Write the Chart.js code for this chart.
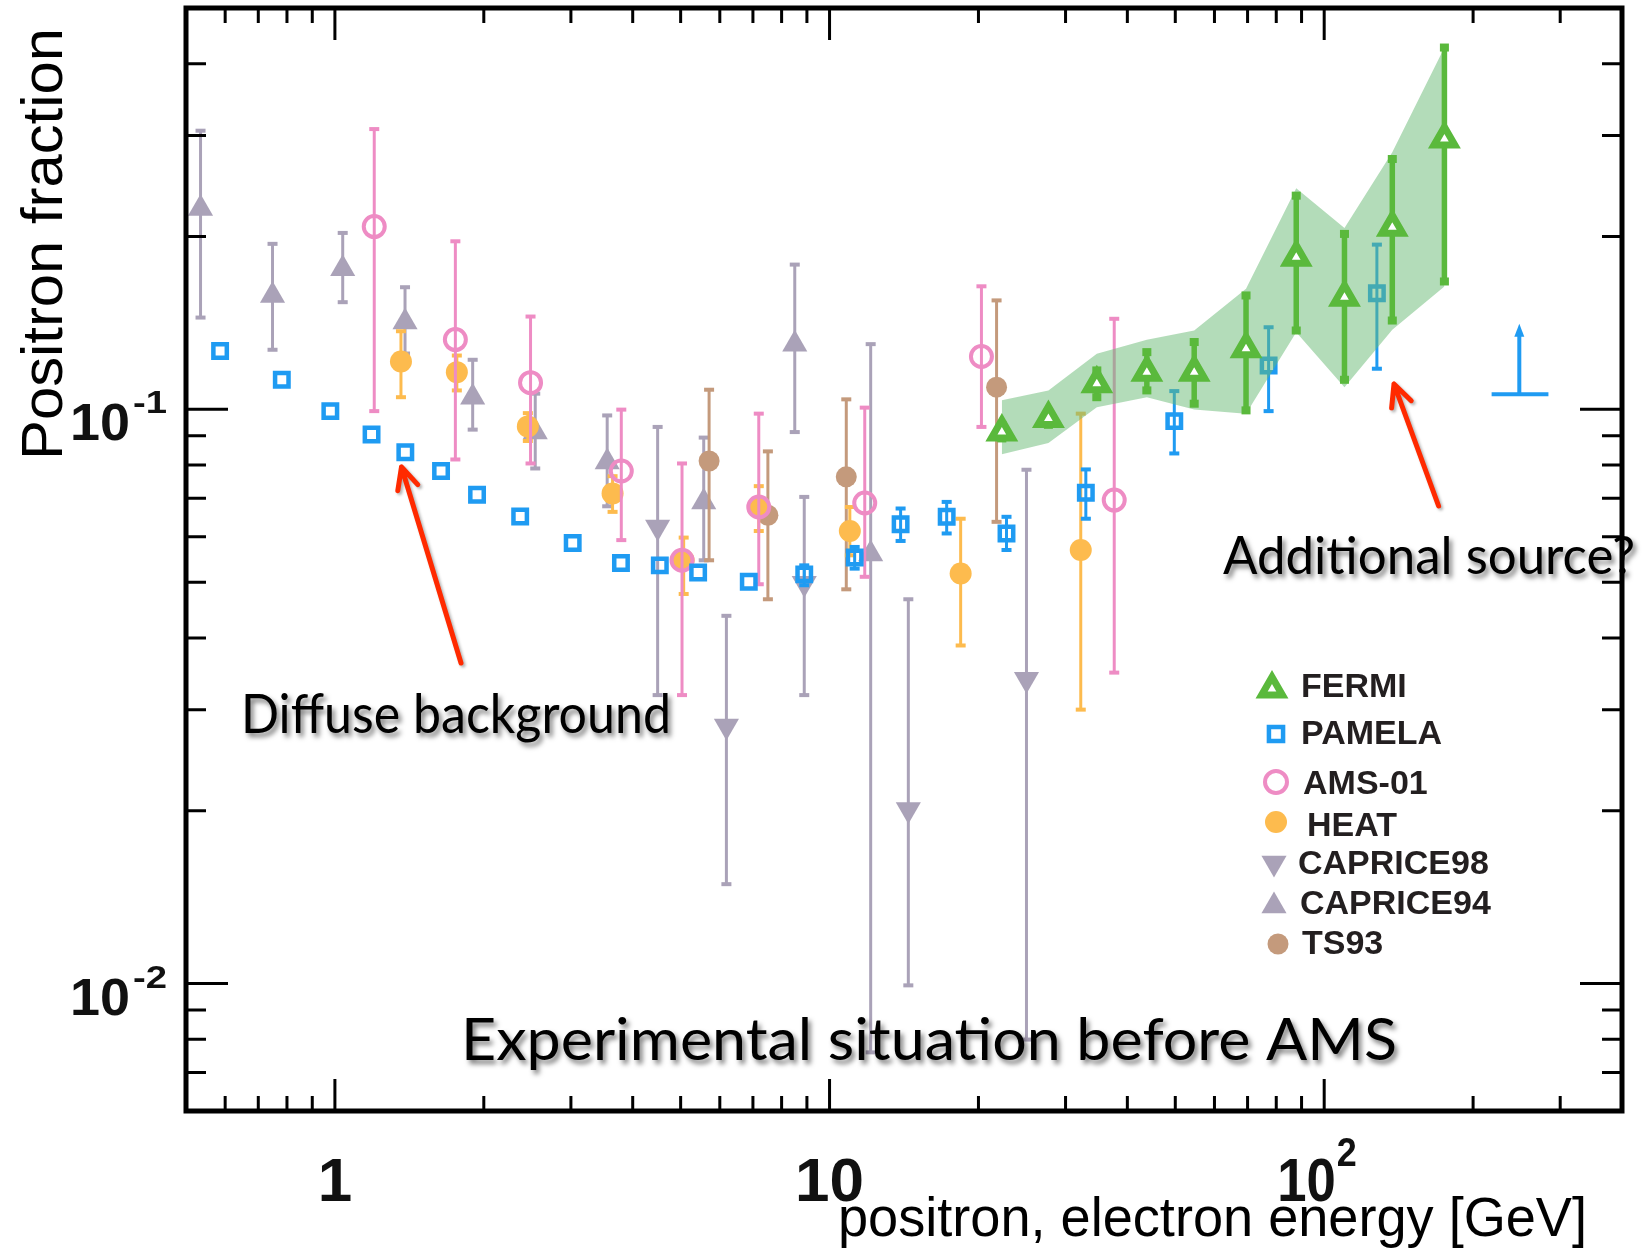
<!DOCTYPE html>
<html>
<head>
<meta charset="utf-8">
<script src="https://cdn.jsdelivr.net/npm/chart.js@4.4.1/dist/chart.umd.min.js"></script>
<style>
  html, body { margin: 0; padding: 0; background: #fff; }
</style>
</head>
<body>
<canvas id="chart" width="1643" height="1250"></canvas>
<script>
// energy in GeV, positron fraction
const fermiE = [22.3, 27.7, 34.7, 43.8, 54.6, 69.5, 87.8, 109.9, 137.3, 175.0];
const fermiF = [0.0913, 0.0964, 0.1108, 0.1161, 0.1161, 0.1275, 0.184, 0.1568, 0.2075, 0.2957];
const fermiLo = [0.089, 0.094, 0.105, 0.1079, 0.1023, 0.0996, 0.1372, 0.1126, 0.1428, 0.167];
const fermiHi = [0.094, 0.099, 0.1169, 0.1258, 0.131, 0.1579, 0.2356, 0.2021, 0.2729, 0.4267];
const fermiBandHi = [0.1037, 0.1079, 0.125, 0.1322, 0.1372, 0.1622, 0.2426, 0.207, 0.2803, 0.4267];
const fermiBandLo = [0.0835, 0.0874, 0.1009, 0.105, 0.0999, 0.0983, 0.1363, 0.1093, 0.1376, 0.1636];

const pamelaE = [0.586, 0.781, 0.979, 1.186, 1.388, 1.639, 1.938, 2.369, 3.025, 3.787, 4.538, 5.424, 6.866,
  8.889, 11.24, 13.92, 17.25, 22.79, 32.97, 49.77, 77.2, 127.8];
const pamelaF = [0.1264, 0.1126, 0.0993, 0.0904, 0.0842, 0.0781, 0.071, 0.0651, 0.0585, 0.054, 0.0535, 0.052, 0.0501,
  0.0516, 0.0552, 0.0631, 0.065, 0.0608, 0.0716, 0.0954, 0.1192, 0.1593];
const pamelaLo = [null, null, null, null, null, null, null, null, null, null, null, null, null,
  0.0494, 0.0528, 0.059, 0.0608, 0.0569, 0.0645, 0.0838, 0.0993, 0.1177];
const pamelaHi = [null, null, null, null, null, null, null, null, null, null, null, null, null,
  0.0535, 0.0576, 0.0672, 0.069, 0.065, 0.0786, 0.1076, 0.139, 0.1936];
// lower limit: energy bin [lo, centre, hi], fraction [bar, arrow tip]
const pamelaLimitE = [218, 248, 284];
const pamelaLimitF = [0.1062, 0.141];

const amsE = [1.201, 1.752, 2.486, 3.793, 5.032, 7.193, 11.78, 20.28, 37.63];
const amsF = [0.2081, 0.1323, 0.1113, 0.0781, 0.0546, 0.0676, 0.0687, 0.1236, 0.0695];
const amsLo = [0.0993, 0.0818, 0.0805, 0.0592, 0.0318, 0.0496, 0.0511, 0.0932, 0.0348];
const amsHi = [0.3077, 0.1962, 0.1451, 0.0999, 0.0805, 0.0983, 0.1007, 0.1638, 0.1438];

const heatE = [1.36, 1.764, 2.455, 3.642, 5.071, 7.193, 10.99, 18.41, 32.2];
const heatF = [0.1212, 0.1161, 0.0934, 0.0714, 0.0546, 0.0676, 0.0614, 0.0518, 0.0569];
const heatLo = [0.105, 0.1079, 0.0881, 0.0663, 0.0477, 0.0614, 0.0557, 0.0388, 0.03];
const heatHi = [0.1368, 0.1241, 0.0985, 0.0765, 0.0598, 0.0735, 0.0676, 0.0645, 0.0983];

const caprice98E = [4.492, 6.187, 8.889, 14.43, 25.01];
const caprice98F = [0.0624, 0.0281, 0.0498, 0.0201, 0.0339];
const caprice98Lo = [0.0318, 0.0149, 0.0318, 0.00993, 0.00799];
const caprice98Hi = [0.0932, 0.0437, 0.0704, 0.0467, 0.0785];

const caprice94E = [0.535, 0.748, 1.037, 1.386, 1.899, 2.541, 3.552, 5.567, 8.505, 12.11];
const caprice94F = [0.2237, 0.1579, 0.1757, 0.1419, 0.105, 0.0913, 0.081, 0.069, 0.1299, 0.056];
const caprice94Lo = [0.1445, 0.127, 0.1537, 0.1251, 0.0922, 0.0789, 0.0678, 0.0546, 0.0913, 0.00759];
const caprice94Hi = [0.3057, 0.1942, 0.2029, 0.1632, 0.122, 0.1065, 0.0976, 0.0893, 0.1787, 0.1299];

const ts93E = [5.708, 7.505, 10.81, 21.76];
const ts93F = [0.0813, 0.0654, 0.0763, 0.1093];
const ts93Lo = [0.0546, 0.0467, 0.0486, 0.0637];
const ts93Hi = [0.1082, 0.0845, 0.1041, 0.1548];

const xMajorTicks = [1, 10, 100];
const xMinorTicks = [0.6, 0.7, 0.8, 0.9, 2, 3, 4, 5, 6, 7, 8, 9, 20, 30, 40, 50, 60, 70, 80, 90, 200, 300];
const yMajorTicks = [0.01, 0.1];
const yMinorTicks = [0.007, 0.008, 0.009, 0.02, 0.03, 0.04, 0.05, 0.06, 0.07, 0.08, 0.09, 0.2, 0.3, 0.4];
const xTickLabels = [["1", ""], ["10", ""], ["10", "2"]];
const yTickLabels = [["10", "-2"], ["10", "-1"]];

const GREEN = "#5ab93c";
const BLUE = "#1f9bf2";
const PINK = "#ee8cc4";
const ORANGE = "#fdbb4e";
const GREY = "#aaa2b8";
const BROWN = "#c49a7c";
const RED = "#ff2a00";

const pts = (xs, ys) => xs.map((x, i) => ({ x: x, y: ys[i] }));

function series(label, xs, ys, lo, hi, color, marker) {
    return Object.assign({
        label: label,
        data: pts(xs, ys),
        errLo: lo,
        errHi: hi,
        errColor: color,
        errWidth: 3,
        capW: 10,
        capH: 4,
        pointBorderColor: color,
        pointBackgroundColor: color,
        pointBorderWidth: 0,
        pointHoverRadius: marker.pointRadius,
    }, marker);
}

const errorBars = {
    id: "errorBars",
    beforeDatasetDraw(chart, args) {
        const ds = chart.data.datasets[args.index];
        if (!ds.errLo) return;
        const ys = chart.scales.y;
        const a = chart.chartArea;
        const ctx = chart.ctx;
        ctx.save();
        ctx.beginPath();
        ctx.rect(a.left, a.top, a.right - a.left, a.bottom - a.top);
        ctx.clip();
        ctx.strokeStyle = ds.errColor;
        ctx.fillStyle = ds.errColor;
        ctx.lineWidth = ds.errWidth;
        args.meta.data.forEach((p, i) => {
            if (ds.errLo[i] == null) return;
            const y1 = ys.getPixelForValue(ds.errHi[i]);
            const y2 = ys.getPixelForValue(ds.errLo[i]);
            ctx.beginPath();
            ctx.moveTo(p.x, y1);
            ctx.lineTo(p.x, y2);
            ctx.stroke();
            ctx.fillRect(p.x - ds.capW / 2, y1 - ds.capH / 2, ds.capW, ds.capH);
            ctx.fillRect(p.x - ds.capW / 2, y2 - ds.capH / 2, ds.capW, ds.capH);
        });
        ctx.restore();
    },
};

// stretch / squeeze a string to a given width
function fitText(ctx, text, x, y, w) {
    const m = ctx.measureText(text).width;
    ctx.save();
    ctx.translate(x, y);
    ctx.scale(w / m, 1);
    ctx.textAlign = "left";
    ctx.fillText(text, 0, 0);
    ctx.restore();
}

function arrow(ctx, x1, y1, x2, y2) {
    const ang = Math.atan2(y2 - y1, x2 - x1);
    ctx.beginPath();
    ctx.moveTo(x1, y1);
    ctx.lineTo(x2, y2);
    ctx.moveTo(x2 - 24 * Math.cos(ang - 0.45), y2 - 24 * Math.sin(ang - 0.45));
    ctx.lineTo(x2, y2);
    ctx.lineTo(x2 - 24 * Math.cos(ang + 0.45), y2 - 24 * Math.sin(ang + 0.45));
    ctx.stroke();
}

const legendItems = [
    { text: "FERMI", style: "triangle", rot: 0, r: 12, bw: 7, stroke: GREEN, fill: "#fff", mx: 1272, my: 689, tx: 1301, ty: 688 },
    { text: "PAMELA", style: "rect", rot: 0, r: 10, bw: 4.5, stroke: BLUE, fill: "#fff", mx: 1276, my: 734, tx: 1301, ty: 735 },
    { text: "AMS-01", style: "circle", rot: 0, r: 11, bw: 4, stroke: PINK, fill: "#fff", mx: 1276, my: 782, tx: 1303, ty: 785 },
    { text: "HEAT", style: "circle", rot: 0, r: 11, bw: 0, stroke: ORANGE, fill: ORANGE, mx: 1276, my: 822, tx: 1307, ty: 827 },
    { text: "CAPRICE98", style: "triangle", rot: 180, r: 14.5, bw: 0, stroke: GREY, fill: GREY, mx: 1274, my: 863, tx: 1298, ty: 865 },
    { text: "CAPRICE94", style: "triangle", rot: 0, r: 14.5, bw: 0, stroke: GREY, fill: GREY, mx: 1274, my: 906, tx: 1300, ty: 905 },
    { text: "TS93", style: "circle", rot: 0, r: 10.5, bw: 0, stroke: BROWN, fill: BROWN, mx: 1278, my: 944, tx: 1302, ty: 945 },
];

const decorations = {
    id: "decorations",
    afterDatasetsDraw(chart) {
        const ctx = chart.ctx;
        const xs = chart.scales.x;
        const ys = chart.scales.y;

        // PAMELA lower limit
        const lx0 = xs.getPixelForValue(pamelaLimitE[0]);
        const lx = xs.getPixelForValue(pamelaLimitE[1]);
        const lx1 = xs.getPixelForValue(pamelaLimitE[2]);
        const ly = ys.getPixelForValue(pamelaLimitF[0]);
        const lt = ys.getPixelForValue(pamelaLimitF[1]);
        ctx.save();
        ctx.strokeStyle = BLUE;
        ctx.fillStyle = BLUE;
        ctx.lineWidth = 4;
        ctx.beginPath();
        ctx.moveTo(lx0, ly);
        ctx.lineTo(lx1, ly);
        ctx.moveTo(lx, ly);
        ctx.lineTo(lx, lt + 8);
        ctx.stroke();
        ctx.beginPath();
        ctx.moveTo(lx, lt);
        ctx.lineTo(lx - 5, lt + 13);
        ctx.lineTo(lx + 5, lt + 13);
        ctx.closePath();
        ctx.fill();
        ctx.restore();
    },
    afterDraw(chart) {
        const ctx = chart.ctx;
        const a = chart.chartArea;
        const xs = chart.scales.x;
        const ys = chart.scales.y;

        // annotations
        ctx.save();
        ctx.fillStyle = "#000";
        ctx.shadowColor = "rgba(0,0,0,0.5)";
        ctx.shadowOffsetX = 3;
        ctx.shadowOffsetY = 4;
        ctx.shadowBlur = 5;
        ctx.textBaseline = "alphabetic";
        ctx.font = "54px Lato, 'Open Sans', sans-serif";
        fitText(ctx, "Diffuse background", 241, 733, 430);
        ctx.font = "53px Lato, 'Open Sans', sans-serif";
        fitText(ctx, "Additional source?", 1223, 574, 412);
        ctx.font = "59px Lato, 'Open Sans', sans-serif";
        fitText(ctx, "Experimental situation before AMS", 461, 1060, 936);

        ctx.shadowColor = "rgba(0,0,0,0.3)";
        ctx.shadowOffsetX = 2;
        ctx.shadowOffsetY = 2;
        ctx.shadowBlur = 3;
        ctx.strokeStyle = RED;
        ctx.lineWidth = 5;
        ctx.lineCap = "round";
        ctx.lineJoin = "round";
        arrow(ctx, 461, 663, 401.5, 467);
        arrow(ctx, 1438.6, 506, 1394, 384);
        ctx.restore();

        // legend
        ctx.save();
        legendItems.forEach((it) => {
            ctx.strokeStyle = it.stroke;
            ctx.fillStyle = it.fill;
            ctx.lineWidth = it.bw;
            Chart.helpers.drawPoint(ctx, { pointStyle: it.style, rotation: it.rot, radius: it.r, borderWidth: it.bw }, it.mx, it.my);
            ctx.fillStyle = "#231f20";
            ctx.font = "bold 34px 'Liberation Sans', Arial, sans-serif";
            ctx.textBaseline = "middle";
            ctx.textAlign = "left";
            ctx.fillText(it.text, it.tx, it.ty);
        });
        ctx.restore();

        // frame and ticks
        ctx.save();
        ctx.strokeStyle = "#000";
        ctx.lineWidth = 3;
        ctx.beginPath();
        const xt = (vals, len) => vals.forEach((v) => {
            const p = xs.getPixelForValue(v);
            ctx.moveTo(p, a.bottom);
            ctx.lineTo(p, a.bottom - len);
            ctx.moveTo(p, a.top);
            ctx.lineTo(p, a.top + len);
        });
        const yt = (vals, len) => vals.forEach((v) => {
            const p = ys.getPixelForValue(v);
            ctx.moveTo(a.left, p);
            ctx.lineTo(a.left + len, p);
            ctx.moveTo(a.right, p);
            ctx.lineTo(a.right - len, p);
        });
        xt(xMajorTicks, 32);
        xt(xMinorTicks, 15);
        yt(yMajorTicks, 42);
        yt(yMinorTicks, 20);
        ctx.stroke();
        ctx.lineWidth = 5;
        ctx.strokeRect(a.left, a.top, a.right - a.left, a.bottom - a.top);
        ctx.restore();

        // tick labels
        ctx.save();
        ctx.fillStyle = "#111";
        ctx.textBaseline = "alphabetic";
        xMajorTicks.forEach((v, i) => {
            const p = xs.getPixelForValue(v);
            const [base, sup] = xTickLabels[i];
            ctx.font = "bold 62px 'Liberation Sans', Arial, sans-serif";
            const bw = ctx.measureText(base).width;
            if (!sup) {
                fitText(ctx, base, p - bw / 2, 1201, bw);
                return;
            }
            ctx.font = "bold 62px 'Liberation Sans', Arial, sans-serif";
            fitText(ctx, base, p - 47, 1201, bw * 0.85);
            ctx.font = "bold 40px 'Liberation Sans', Arial, sans-serif";
            fitText(ctx, sup, p - 47 + bw * 0.85 + 1, 1166, 20);
        });
        yTickLabels.forEach((lab, i) => {
            const p = ys.getPixelForValue(yMajorTicks[i]);
            ctx.font = "bold 52px 'Liberation Sans', Arial, sans-serif";
            fitText(ctx, lab[0], 70, p + 31, 60);
            ctx.font = "bold 32px 'Liberation Sans', Arial, sans-serif";
            fitText(ctx, lab[1], 133, p + 4, 34);
        });

        // axis titles
        ctx.fillStyle = "#000";
        ctx.font = "56px 'Liberation Sans Narrow', 'Liberation Sans', Arial, sans-serif";
        fitText(ctx, "positron, electron energy [GeV]", 838, 1236, 749);
        ctx.translate(62, 460);
        ctx.rotate(-Math.PI / 2);
        ctx.font = "58px 'Liberation Sans Narrow', 'Liberation Sans', Arial, sans-serif";
        fitText(ctx, "Positron fraction", 0, 0, 432);
        ctx.restore();
    },
};

new Chart(document.getElementById("chart"), {
    type: "scatter",
    data: {
        datasets: [
            Object.assign(series("FERMI", fermiE, fermiF, fermiLo, fermiHi, GREEN, {
                pointStyle: "triangle", pointRadius: 12, pointBorderWidth: 7,
            }), { pointBackgroundColor: "#fff", errWidth: 5.5, capW: 9, capH: 8 }),
            {
                type: "line",
                label: "band",
                data: pts(fermiE, fermiBandHi),
                borderWidth: 0,
                pointRadius: 0,
                fill: "+1",
                backgroundColor: "rgba(104,186,116,0.5)",
            },
            {
                type: "line",
                label: "band-lo",
                data: pts(fermiE, fermiBandLo),
                borderWidth: 0,
                pointRadius: 0,
                fill: false,
            },
            Object.assign(series("PAMELA", pamelaE, pamelaF, pamelaLo, pamelaHi, BLUE, {
                pointStyle: "rect", pointRadius: 9.5, pointBorderWidth: 4.5,
            }), { pointBackgroundColor: "rgba(255,255,255,0)" }),
            Object.assign(series("AMS-01", amsE, amsF, amsLo, amsHi, PINK, {
                pointStyle: "circle", pointRadius: 10.5, pointBorderWidth: 4,
            }), { pointBackgroundColor: "rgba(255,255,255,0)" }),
            series("HEAT", heatE, heatF, heatLo, heatHi, ORANGE, { pointStyle: "circle", pointRadius: 11 }),
            series("TS93", ts93E, ts93F, ts93Lo, ts93Hi, BROWN, { pointStyle: "circle", pointRadius: 10.5 }),
            series("CAPRICE98", caprice98E, caprice98F, caprice98Lo, caprice98Hi, GREY, {
                pointStyle: "triangle", pointRotation: 180, pointRadius: 14.5,
            }),
            series("CAPRICE94", caprice94E, caprice94F, caprice94Lo, caprice94Hi, GREY, {
                pointStyle: "triangle", pointRadius: 14.5,
            }),
        ],
    },
    options: {
        responsive: false,
        animation: false,
        devicePixelRatio: 1,
        layout: { autoPadding: false, padding: { left: 186, right: 21, top: 8, bottom: 139 } },
        plugins: {
            legend: { display: false },
            tooltip: { enabled: false },
        },
        scales: {
            x: { type: "logarithmic", min: 0.5, max: 400, display: false },
            y: { type: "logarithmic", min: 0.006, max: 0.5, display: false },
        },
    },
    plugins: [errorBars, decorations],
});
</script>
</body>
</html>
